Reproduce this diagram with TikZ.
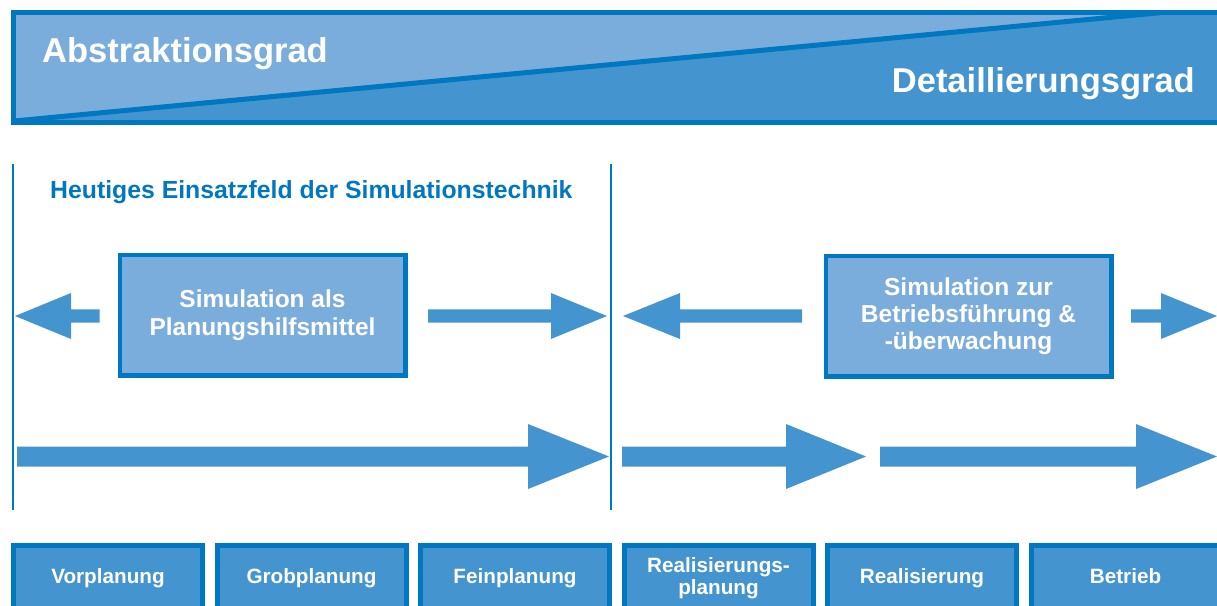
\documentclass[tikz,border=0pt]{standalone}
\usepackage{fontspec}
\setmainfont{Liberation Sans}
\definecolor{edgeblue}{RGB}{0,120,193}
\definecolor{lightblue}{RGB}{123,173,220}
\definecolor{midblue}{RGB}{68,148,207}
% block arrow: tail x, head base x, tip x, centre y, shaft half height, head half height
\newcommand\blkarrow[6]{%
  \fill[midblue] (#1,#4-#5) -- (#2,#4-#5) -- (#2,#4-#6) -- (#3,#4)
    -- (#2,#4+#6) -- (#2,#4+#5) -- (#1,#4+#5) -- cycle;}
\tikzset{
  bannertext/.style={inner sep=0pt, text=white, font=\fontsize{34.5}{40}\selectfont\bfseries},
  fieldtitle/.style={inner sep=0pt, text=edgeblue, font=\fontsize{24.8}{28}\selectfont\bfseries},
  simbox/.style={draw=edgeblue, fill=lightblue, line width=4.5pt, inner sep=0pt,
    minimum width=285.5pt, minimum height=120.5pt, text=white, align=center},
  phase/.style={draw=edgeblue, fill=midblue, line width=5pt, inner sep=0pt,
    minimum width=189pt, minimum height=66pt, text=white, align=center,
    font=\fontsize{20.7}{22}\selectfont\bfseries},
  divider/.style={draw=edgeblue, line width=2.5pt}
}
\begin{document}
\begin{tikzpicture}[x=1pt, y=-1pt]
\useasboundingbox (0,0) rectangle (1217,605);
\clip (0,0) rectangle (1217,605);

% banner: abstraction versus detail
\fill[midblue] (13.5,12.5) rectangle (1240,122);
\fill[lightblue] (13.5,12.5) -- (1160,12.5) -- (13.5,122) -- cycle;
\draw[edgeblue, line width=5pt] (14,121) -- (1162,12.5);
\draw[edgeblue, line width=5pt] (13.5,12.5) rectangle (1240,122);
\node[bannertext, anchor=base west] (abs) at (42,62) {Abstraktionsgrad};
\node[bannertext, anchor=base east] (det) at (1195,92) {Detaillierungsgrad};

% field of application
\draw[divider] (13,164) -- (13,510);
\draw[divider] (611,164) -- (611,510);
\node[fieldtitle, anchor=base west] (field) at (50,198) {Heutiges Einsatzfeld der Simulationstechnik};

% simulation boxes
\node[simbox, font=\fontsize{24.5}{28}\selectfont\bfseries] (plan) at (262.5,315)
  {Simulation als\\Planungshilfsmittel};
\node[simbox, font=\fontsize{24.5}{27}\selectfont\bfseries] (oper) at (968.5,316)
  {Simulation zur\\Betriebsführung \&\\-überwachung};

% arrows beside the boxes
\blkarrow{99.5}{71}{15}{316}{6.7}{23}
\blkarrow{428}{551}{607}{316}{6.7}{23}
\blkarrow{802}{680}{623}{316}{6.7}{23}
\blkarrow{1131}{1161}{1217}{316}{6.7}{23}

% process arrows
\blkarrow{17}{528}{609}{456.5}{10}{32.5}
\blkarrow{622}{786}{866}{456.5}{10}{32.5}
\blkarrow{880}{1136}{1217}{456.5}{10}{32.5}

% project phases
\node[phase] (p1) at (108,578.5) {Vorplanung};
\node[phase] (p2) at (311.5,578.5) {Grobplanung};
\node[phase] (p3) at (515,578.5) {Feinplanung};
\node[phase] (p4) at (718.5,578.5) {Realisierungs-\\planung};
\node[phase] (p5) at (922,578.5) {Realisierung};
\node[phase] (p6) at (1125.5,578.5) {\vphantom{g}Betrieb};
\end{tikzpicture}
\end{document}
